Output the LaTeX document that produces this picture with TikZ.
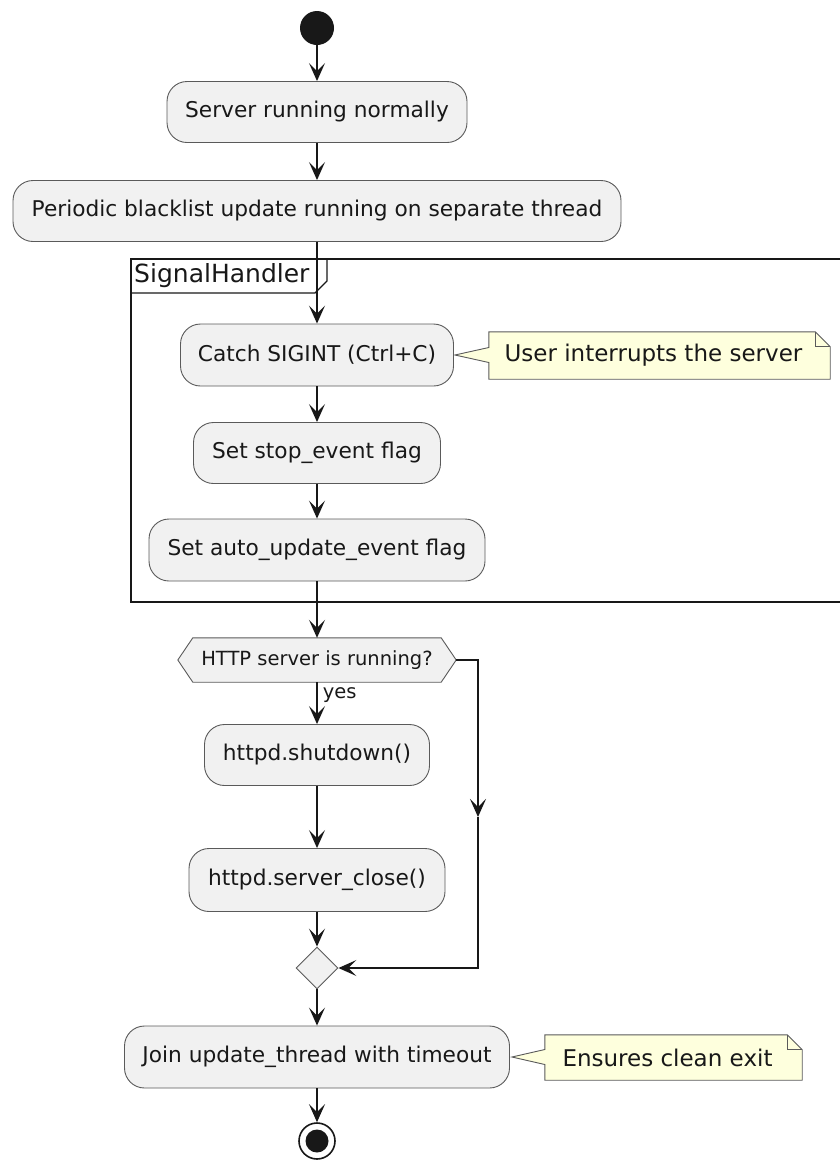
\documentclass[tikz,border=0pt]{standalone}
\usepackage{fontspec}
\setmainfont{DejaVu Sans}
\usetikzlibrary{arrows.meta,shapes.geometric,backgrounds}
\definecolor{actfill}{HTML}{F1F1F1}
\definecolor{notefill}{HTML}{FEFFDD}
\definecolor{ink}{HTML}{181818}
\definecolor{edge}{HTML}{5A5A5A}

\begin{document}
\begin{tikzpicture}[x=1pt,y=-1pt,
  act/.style={draw=edge, line width=0.9pt, fill=actfill, rounded corners=20pt,
    inner sep=0pt, font=\fontsize{21.7}{25}\selectfont, text=ink},
  notebox/.style={inner sep=0pt, font=\fontsize{23}{27}\selectfont, text=ink},
  noteline/.style={draw=edge, line width=0.9pt, fill=notefill},
  flow/.style={draw=ink, line width=1.6pt, -{Stealth[length=18pt,width=16pt,inset=8pt]}},
  small/.style={font=\fontsize{19.5}{23}\selectfont, text=ink},
]
\useasboundingbox (0,0) rectangle (839,1160);

% start node
\node[circle, fill=ink, minimum size=34pt, inner sep=0pt] (start) at (317,28) {};

% activities
\node[act, minimum width=300pt, minimum height=61pt] (act1) at (317,112) {Server running normally};
\node[act, minimum width=608pt, minimum height=61pt] (act2) at (317,211) {Periodic blacklist update running on separate thread};

% SignalHandler partition
\draw[line width=1.9pt, draw=ink] (846,259) -- (131,259) -- (131,602) -- (846,602);
\draw[line width=1.4pt, draw=ink] (131,293) -- (315,293) -- (327,281) -- (327,259);
\node[anchor=west, font=\fontsize{25}{29}\selectfont, text=ink, inner sep=0pt] (part) at (134,276) {SignalHandler};

\node[act, minimum width=273pt, minimum height=62pt] (catch) at (317,355) {Catch SIGINT (Ctrl+C)};
\node[act, minimum width=247pt, minimum height=61pt] (stop) at (317,453) {Set stop\_event flag};
\node[act, minimum width=336pt, minimum height=62pt] (auto) at (317,550) {Set auto\_update\_event flag};

% decision
\node[small, inner sep=0pt, minimum width=278pt, minimum height=44pt] (dec) at (317,660) {HTTP server is running?};
\begin{scope}[on background layer]
  \draw[draw=edge, line width=0.9pt, fill=actfill]
    (dec.west) -- ([xshift=15pt]dec.north west) -- ([xshift=-15pt]dec.north east) -- (dec.east)
    -- ([xshift=-15pt]dec.south east) -- ([xshift=15pt]dec.south west) -- cycle;
\end{scope}

\node[act, minimum width=225pt, minimum height=61pt] (shut) at (317,755) {httpd.shutdown()};
\node[act, minimum width=256pt, minimum height=63pt] (close) at (317,880) {httpd.server\_close()};

\node[diamond, draw=edge, line width=0.9pt, fill=actfill, inner sep=0pt, minimum width=42pt, minimum height=42pt] (merge) at (317,968) {};

\node[act, minimum width=385pt, minimum height=62pt] (join) at (317,1057) {Join update\_thread with timeout};

% end node
\node[circle, draw=ink, line width=1.6pt, fill=white, minimum size=36pt, inner sep=0pt] (stopnode) at (317,1141) {};
\node[circle, fill=ink, minimum size=23pt, inner sep=0pt] (stopdot) at (stopnode.center) {};

% notes
\node[notebox, minimum width=341pt, minimum height=47pt] (n1) at (659.5,355.5) {User interrupts the server\hspace*{12pt}};
\node[notebox, minimum width=257pt, minimum height=45pt] (n2) at (673.5,1057.5) {Ensures clean exit\hspace*{12pt}};
\coordinate (t1) at ([xshift=1pt]catch.east);
\coordinate (t2) at ([xshift=2pt]join.east);
\begin{scope}[on background layer]
  \foreach \n/\t in {n1/t1, n2/t2} {
    \draw[noteline] (\n.north west) -- ([xshift=-15pt]\n.north east) -- ([yshift=-15pt]\n.north east)
      -- (\n.south east) -- (\n.south west) -- ([yshift=-7pt]\n.west) -- (\t)
      -- ([yshift=8pt]\n.west) -- cycle;
    \draw[draw=edge, line width=0.9pt] ([xshift=-15pt]\n.north east) -- ([xshift=-15pt,yshift=-15pt]\n.north east)
      -- ([yshift=-15pt]\n.north east);
  }
\end{scope}

% flow
\draw[flow] (start) -- (act1);
\draw[flow] (act1) -- (act2);
\draw[flow] (act2) -- (catch);
\draw[flow] (catch) -- (stop);
\draw[flow] (stop) -- (auto);
\draw[flow] (auto) -- (dec);
\draw[flow] (dec) -- node[small, anchor=west, inner sep=0pt, pos=0.3, xshift=5pt] (yes) {yes} (shut);
\draw[flow] (shut) -- (close);
\draw[flow] (close) -- (merge);
\coordinate (r1) at (478,660);
\coordinate (rmid) at (478,817);
\coordinate (r2) at (478,968);
\draw[flow] (dec.east) -- (r1) -- (rmid);
\draw[flow] (rmid) -- (r2) -- (merge.east);
\draw[flow] (merge) -- (join);
\draw[flow] (join) -- (stopnode);
\end{tikzpicture}
\end{document}
